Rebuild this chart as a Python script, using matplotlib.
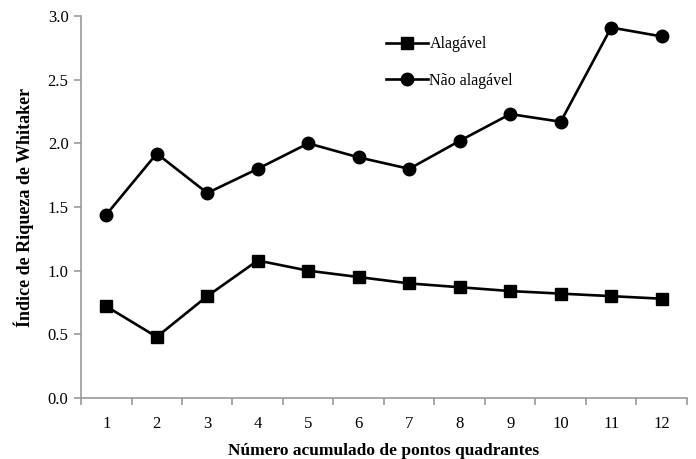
import matplotlib.pyplot as plt
import numpy as np

plt.rcParams['font.family'] = ['Liberation Serif', 'DejaVu Serif']

pontos = [1, 2, 3, 4, 5, 6, 7, 8, 9, 10, 11, 12]
alagavel = [0.72, 0.48, 0.80, 1.08, 1.00, 0.95, 0.90, 0.87, 0.84, 0.82, 0.80, 0.78]
nao_alagavel = [1.44, 1.92, 1.61, 1.80, 2.00, 1.89, 1.80, 2.02, 2.23, 2.17, 2.91, 2.84]
yticks = [0.0, 0.5, 1.0, 1.5, 2.0, 2.5, 3.0]

fig = plt.figure(figsize=(6.96, 4.59), dpi=100)
ax = fig.add_axes([0.1164, 0.1329, 0.8706, 0.8321])

ax.plot(pontos, alagavel, color='black', lw=1.9, marker='s', ms=8.5, label='Alagável')
ax.plot(pontos, nao_alagavel, color='black', lw=1.9, marker='o', ms=9, label='Não alagável')

ax.set_xlim(0.5, 12.5)
ax.set_ylim(0, 3.0)
ax.set_yticks(yticks)
ax.set_yticklabels(['%.1f' % v for v in yticks])
ax.set_xticks(pontos)
ax.set_xticks(np.arange(0.5, 13, 1), minor=True)
ax.tick_params(axis='x', which='major', length=0, pad=13, labelsize=12)
ax.tick_params(axis='x', which='minor', length=5, width=1.2, color='#999999', direction='out')
ax.tick_params(axis='y', length=5, width=1.2, color='#999999', direction='out', labelsize=12, pad=4)

for s in ['top', 'right']:
    ax.spines[s].set_visible(False)
for s in ['left', 'bottom']:
    ax.spines[s].set_color('#999999')
    ax.spines[s].set_linewidth(1.2)

ax.set_xlabel('Número acumulado de pontos quadrantes', fontsize=12.5, fontweight='bold', labelpad=8)
ax.set_ylabel('Índice de Riqueza de Whitaker', fontsize=13, fontweight='bold', labelpad=10)

ax.legend(loc='upper left', bbox_to_anchor=(0.48, 0.985), frameon=False, fontsize=11.5,
          handlelength=2.6, handletextpad=0.1, labelspacing=1.3)

fig.savefig('out.png', dpi=100)
